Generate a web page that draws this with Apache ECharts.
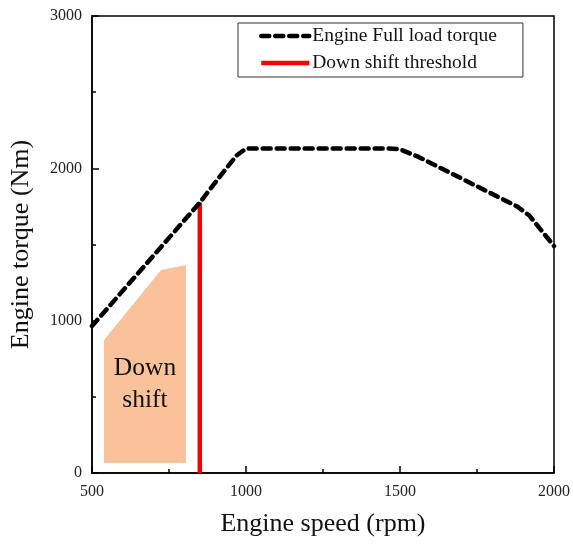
<!DOCTYPE html>
<html>
<head>
<meta charset="utf-8">
<script src="https://cdn.jsdelivr.net/npm/echarts@6/dist/echarts.min.js"></script>
<style>
  html, body { margin: 0; padding: 0; background: #fff; }
  #chart { width: 573px; height: 544px; }
</style>
</head>
<body>
<div id="chart"></div>
<script>
// full load torque curve (rpm, Nm)
const torqueSpeed = [500, 850, 930, 970, 1000, 1460, 1500, 1560, 1880, 1920, 2000];
const torqueValue = [965, 1775, 1985, 2085, 2130, 2130, 2125, 2075, 1750, 1690, 1490];

// down shift threshold
const thresholdSpeed = [850, 850];
const thresholdValue = [0, 1775];

// down shift region outline
const regionSpeed = [539, 724, 805, 805, 539];
const regionValue = [873, 1333, 1366, 66, 66];
const regionLabel = "Down\nshift";
const regionLabelAt = [672, 585];

const FONT = "Liberation Serif";

const chart = echarts.init(document.getElementById("chart"));

const option = {
  backgroundColor: "#fff",
  animation: false,
  grid: {
    left: 92,
    top: 16,
    right: 19,
    bottom: 71,
    show: true,
    borderColor: "#000",
    borderWidth: 1.5,
    backgroundColor: "transparent",
  },
  legend: {
    left: 238,
    top: 23,
    orient: "vertical",
    backgroundColor: "#fff",
    borderColor: "#333",
    borderWidth: 1,
    borderRadius: 0,
    padding: [3, 26, 4, 21],
    itemGap: 7,
    itemWidth: 48,
    itemHeight: 18,
    itemStyle: { opacity: 0 },
    lineStyle: { width: 4.5 },
    textStyle: { fontFamily: FONT, fontSize: 19.5, color: "#111", padding: [0, 0, 0, -2] },
    data: ["Engine Full load torque", "Down shift threshold"],
  },
  xAxis: {
    type: "value",
    min: 500,
    max: 2000,
    interval: 500,
    name: "Engine speed (rpm)",
    nameLocation: "middle",
    nameGap: 38,
    nameTextStyle: { fontFamily: FONT, fontSize: 26, color: "#111" },
    axisLine: { lineStyle: { color: "#000", width: 1.5 } },
    axisTick: { inside: true, length: 7, lineStyle: { color: "#000", width: 1.5 } },
    minorTick: { show: true, splitNumber: 2, length: 4, lineStyle: { color: "#000", width: 1.5 } },
    axisLabel: { fontFamily: FONT, fontSize: 16, color: "#222", margin: 11, formatter: (v) => String(v) },
    splitLine: { show: false },
  },
  yAxis: {
    type: "value",
    min: 0,
    max: 3000,
    interval: 1000,
    name: "Engine torque (Nm)",
    nameLocation: "middle",
    nameGap: 58,
    nameTextStyle: { fontFamily: FONT, fontSize: 26, color: "#111" },
    axisLine: { lineStyle: { color: "#000", width: 1.5 } },
    axisTick: { inside: true, length: 7, lineStyle: { color: "#000", width: 1.5 } },
    minorTick: { show: true, splitNumber: 2, length: 4, lineStyle: { color: "#000", width: 1.5 } },
    axisLabel: { fontFamily: FONT, fontSize: 16, color: "#222", margin: 10, formatter: (v) => String(v) },
    splitLine: { show: false },
  },
  series: [
    {
      // shaded down shift zone, drawn under the lines
      name: "region",
      type: "custom",
      z: 1,
      silent: true,
      data: [0],
      renderItem: (params, api) => {
        const pts = regionSpeed.map((s, i) => api.coord([s, regionValue[i]]));
        const c = api.coord(regionLabelAt);
        return {
          type: "group",
          children: [
            {
              type: "polygon",
              shape: { points: pts },
              style: { fill: "#F9C29A" },
            },
            {
              type: "text",
              x: c[0],
              y: c[1],
              style: {
                text: regionLabel,
                fontFamily: FONT,
                fontSize: 25.5,
                lineHeight: 32,
                fill: "#111",
                align: "center",
                verticalAlign: "middle",
              },
            },
          ],
        };
      },
    },
    {
      name: "Engine Full load torque",
      type: "line",
      z: 3,
      symbol: "none",
      data: torqueSpeed.map((s, i) => [s, torqueValue[i]]),
      itemStyle: { color: "#000" },
      lineStyle: { color: "#000", width: 4.5, type: [8, 6], cap: "round" },
    },
    {
      name: "Down shift threshold",
      type: "line",
      z: 2,
      symbol: "none",
      data: thresholdSpeed.map((s, i) => [s, thresholdValue[i]]),
      itemStyle: { color: "#f00" },
      lineStyle: { color: "#f00", width: 4.5 },
    },
  ],
};

chart.setOption(option);
</script>
</body>
</html>
